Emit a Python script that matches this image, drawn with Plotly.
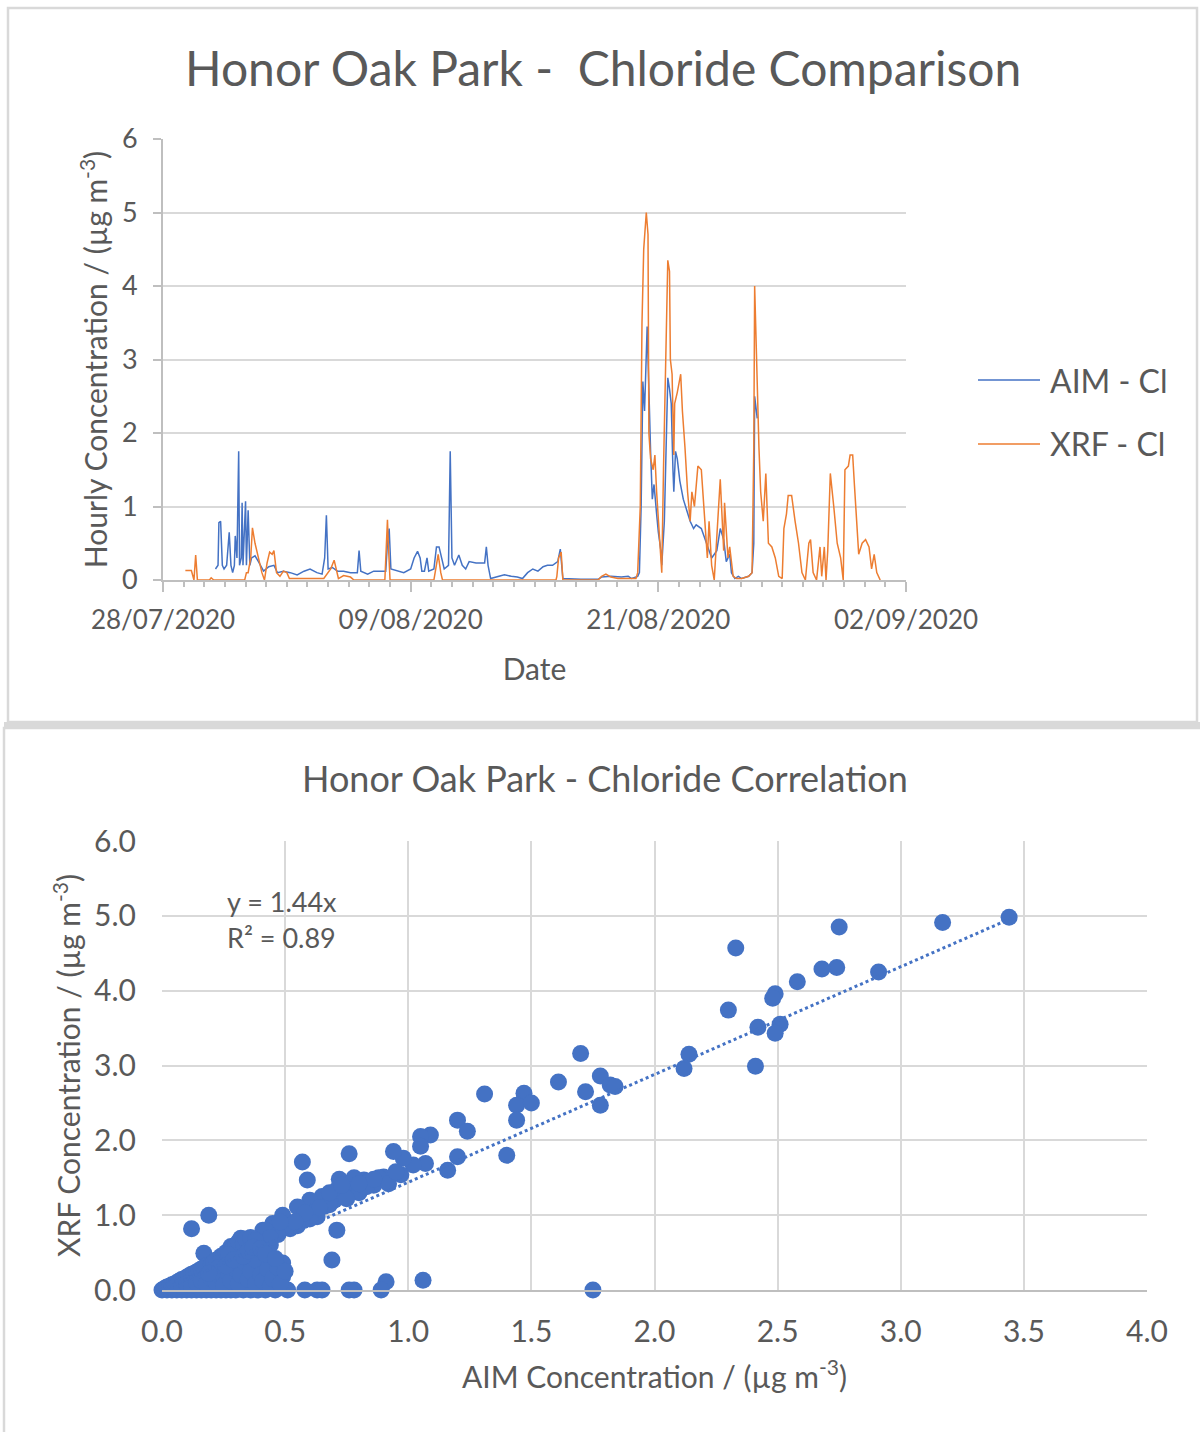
import pandas as pd
import plotly.graph_objects as go

# ---------------- Time-series data (hours after 28/07/2020 00:00) ----------------
aim_hours = [61, 64, 65, 67, 69, 71, 74, 77, 79, 81, 83, 84, 86, 88, 89, 91, 92, 93, 96, 97, 99, 101,
             103, 107, 111, 117, 123, 129, 133, 140, 148, 156, 164, 171, 179, 185, 188, 190, 192, 197,
             203, 210, 218, 226, 228, 230, 238, 245, 253, 259, 261, 263, 265, 273, 280, 288, 292, 296,
             299, 301, 304, 307, 309, 315, 318, 321, 324, 327, 332, 334, 336, 339, 344, 348, 352, 356,
             364, 374, 376, 378, 381, 389, 397, 405, 412, 418, 424, 430, 436, 442, 447, 453, 459, 462,
             465, 486, 506, 510, 521, 533, 541, 545, 552, 554, 556, 558, 560, 563, 565, 567, 569, 571,
             574, 576, 579, 580, 583, 585, 587, 589, 591, 593, 594, 596, 598, 601, 605, 609, 613, 617,
             620, 626, 632, 638, 644, 648, 652, 655, 659, 661, 665, 669, 673, 681, 685, 687, 688, 691]
aim_vals = [0.15, 0.2, 0.78, 0.8, 0.2, 0.15, 0.2, 0.65, 0.2, 0.1, 0.2, 0.6, 0.3, 1.75, 0.2, 0.3, 1.05,
            0.2, 1.07, 0.2, 0.95, 0.2, 0.3, 0.33, 0.25, 0.12, 0.18, 0.2, 0.1, 0.12, 0.1, 0.07, 0.12,
            0.15, 0.1, 0.08, 0.3, 0.88, 0.15, 0.17, 0.12, 0.12, 0.1, 0.1, 0.4, 0.12, 0.08, 0.12, 0.12,
            0.12, 0.5, 0.7, 0.15, 0.12, 0.1, 0.15, 0.3, 0.39, 0.3, 0.12, 0.12, 0.3, 0.12, 0.15, 0.45,
            0.45, 0.3, 0.15, 0.2, 1.75, 0.3, 0.2, 0.34, 0.2, 0.15, 0.25, 0.23, 0.23, 0.45, 0.2, 0.02,
            0.05, 0.07, 0.05, 0.04, 0.02, 0.1, 0.15, 0.12, 0.18, 0.2, 0.2, 0.25, 0.42, 0.02, 0.01, 0.01,
            0.04, 0.05, 0.04, 0.05, 0.02, 0.05, 0.1, 1.0, 2.7, 2.3, 3.45, 2.5, 1.75, 1.1, 1.3, 0.9, 0.65,
            0.4, 0.2, 0.8, 2.0, 2.75, 2.6, 2.4, 1.5, 1.2, 1.75, 1.65, 1.35, 1.1, 0.95, 0.8, 0.7, 0.75,
            0.7, 0.5, 0.3, 0.4, 0.7, 0.55, 0.25, 0.35, 0.1, 0.02, 0.05, 0.02, 0.05, 0.1, 0.5, 2.5, 2.2]

xrf_hours = [26, 33, 36, 38, 40, 54, 56, 59, 95, 97, 99, 102, 104, 107, 111, 115, 118, 121, 124, 127,
             129, 132, 136, 140, 144, 147, 167, 187, 195, 199, 204, 210, 218, 222, 258, 261, 262, 264,
             315, 318, 320, 323, 325, 370, 416, 457, 458, 460, 463, 465, 506, 510, 515, 521, 529, 550,
             552, 555, 557, 559, 562, 564, 565, 567, 570, 572, 574, 576, 578, 580, 582, 585, 587, 589,
             590, 592, 594, 595, 598, 602, 604, 607, 610, 613, 615, 618, 622, 626, 630, 633, 635, 638,
             641, 645, 648, 652, 653, 657, 659, 663, 667, 673, 681, 685, 687, 688, 690, 693, 695, 698,
             701, 704, 708, 712, 716, 720, 722, 725, 727, 731, 735, 739, 743, 747, 751, 753, 756, 760,
             764, 766, 769, 771, 773, 776, 780, 784, 788, 791, 793, 797, 799, 802, 804, 807, 809, 813,
             817, 821, 824, 827, 830, 834]
xrf_vals = [0.13, 0.13, 0.0, 0.34, 0.0, 0.0, 0.03, 0.0, 0.0, 0.1, 0.1, 0.3, 0.71, 0.5, 0.3, 0.1, 0.0,
            0.23, 0.38, 0.35, 0.4, 0.1, 0.05, 0.12, 0.1, 0.02, 0.02, 0.02, 0.15, 0.27, 0.02, 0.06, 0.04,
            0.0, 0.0, 0.82, 0.5, 0.0, 0.0, 0.2, 0.35, 0.1, 0.0, 0.0, 0.0, 0.0, 0.05, 0.3, 0.38, 0.0, 0.0,
            0.05, 0.08, 0.04, 0.02, 0.02, 0.1, 1.0, 3.5, 4.5, 5.0, 4.7, 2.0, 1.65, 1.5, 1.7, 1.2, 0.8,
            0.5, 0.1, 1.5, 3.0, 4.35, 4.2, 3.0, 2.8, 1.7, 2.4, 2.55, 2.8, 2.3, 1.8, 1.2, 0.8, 1.2, 1.0,
            1.55, 1.5, 0.8, 0.3, 0.8, 0.2, 0.0, 0.7, 1.37, 0.4, 1.05, 0.3, 0.45, 0.05, 0.02, 0.02, 0.05,
            0.1, 1.8, 4.0, 3.0, 1.8, 1.2, 0.8, 1.45, 0.5, 0.45, 0.3, 0.05, 0.02, 0.7, 0.9, 1.15, 1.15,
            0.8, 0.5, 0.1, 0.0, 0.5, 0.55, 0.1, 0.0, 0.45, 0.05, 0.45, 0.0, 0.4, 1.45, 1.0, 0.5, 0.3,
            0.0, 1.5, 1.55, 1.7, 1.7, 1.3, 0.8, 0.35, 0.5, 0.55, 0.45, 0.15, 0.35, 0.1, 0.0]

# ---------------- Correlation data ----------------
aim_x = [3.44, 3.17, 2.75, 2.33, 2.91, 2.74, 2.68, 2.58, 2.49, 2.48, 2.30, 2.42, 2.51, 2.49, 2.41, 2.14, 2.12,
         1.70, 1.78, 1.82, 1.84, 1.72, 1.78, 1.61, 1.47, 1.44, 1.50, 1.44, 1.31, 1.20, 1.24, 1.40, 1.20, 1.16,
         1.09, 1.05, 1.05, 1.07, 1.02, 0.98, 0.97, 1.06, 1.75,
         0.94, 0.76, 0.57, 0.59, 0.90, 0.82, 0.76, 0.71, 0.65, 0.60, 0.55, 0.49, 0.45, 0.41, 0.71, 0.69, 0.91,
         0.89, 0.78, 0.76, 0.63, 0.65, 0.58, 0.51,
         0.19, 0.12, 0.17, 0.24, 0.32, 0.28, 0.40, 0.49, 0.49, 0.44, 0.42,
         0.62, 0.66, 0.70, 0.74, 0.78, 0.80, 0.84, 0.86, 0.88, 0.92, 0.95, 0.72, 0.78, 0.83, 0.75, 0.68, 0.63,
         0.60, 0.55, 0.52, 0.47, 0.44, 0.68, 0.73, 0.86, 0.64, 0.58, 0.80, 0.54, 0.48,
         0.00, 0.02, 0.04, 0.06, 0.08, 0.10, 0.12, 0.14, 0.16, 0.18, 0.20, 0.22, 0.24, 0.26, 0.28, 0.30, 0.33,
         0.36, 0.39, 0.42, 0.46,
         0.01, 0.02, 0.03, 0.04, 0.05, 0.06, 0.07, 0.08, 0.09, 0.10, 0.11, 0.12, 0.13, 0.14, 0.15, 0.16, 0.17,
         0.18, 0.20, 0.21, 0.22, 0.24, 0.25, 0.26, 0.28, 0.29, 0.30, 0.31, 0.33, 0.34, 0.36, 0.38, 0.27, 0.23,
         0.05, 0.08, 0.10, 0.12, 0.14, 0.16, 0.18, 0.20, 0.22, 0.24, 0.25, 0.27, 0.28, 0.30, 0.31, 0.32, 0.34,
         0.35, 0.36, 0.38, 0.38, 0.40, 0.41, 0.43, 0.44, 0.45, 0.47, 0.48, 0.50, 0.19, 0.26, 0.29, 0.33, 0.35,
         0.37, 0.40, 0.42, 0.46]
xrf_y = [4.98, 4.91, 4.85, 4.57, 4.25, 4.31, 4.29, 4.12, 3.96, 3.90, 3.74, 3.51, 3.55, 3.43, 2.99, 3.15, 2.96,
         3.16, 2.86, 2.74, 2.72, 2.65, 2.47, 2.78, 2.63, 2.47, 2.50, 2.27, 2.62, 2.27, 2.12, 1.80, 1.78, 1.60,
         2.07, 2.05, 1.92, 1.69, 1.67, 1.76, 1.54, 0.13, 0.00,
         1.85, 1.82, 1.71, 1.47, 1.51, 1.47, 1.43, 1.34, 1.25, 1.20, 1.11, 1.00, 0.89, 0.80, 0.80, 0.40, 0.11,
         0.00, 0.00, 0.00, 0.00, 0.00, 0.00, 0.00,
         1.00, 0.82, 0.49, 0.45, 0.69, 0.58, 0.36, 0.36, 0.18, 0.60, 0.80,
         1.05, 1.12, 1.20, 1.28, 1.36, 1.30, 1.45, 1.40, 1.50, 1.42, 1.58, 1.48, 1.50, 1.38, 1.22, 1.14, 0.98,
         0.95, 0.86, 0.82, 0.74, 0.70, 1.30, 1.40, 1.48, 1.10, 1.03, 1.42, 0.91, 0.91,
         0.00, 0.00, 0.00, 0.00, 0.00, 0.00, 0.00, 0.00, 0.00, 0.00, 0.00, 0.00, 0.00, 0.00, 0.00, 0.00, 0.00,
         0.00, 0.00, 0.00, 0.00,
         0.02, 0.04, 0.05, 0.07, 0.08, 0.10, 0.12, 0.14, 0.15, 0.17, 0.19, 0.21, 0.22, 0.24, 0.26, 0.28, 0.30,
         0.32, 0.34, 0.37, 0.40, 0.42, 0.45, 0.50, 0.52, 0.55, 0.60, 0.64, 0.62, 0.68, 0.70, 0.66, 0.47, 0.30,
         0.03, 0.05, 0.08, 0.06, 0.10, 0.12, 0.08, 0.15, 0.10, 0.18, 0.06, 0.22, 0.12, 0.28, 0.08, 0.20, 0.35,
         0.14, 0.25, 0.40, 0.08, 0.20, 0.12, 0.28, 0.05, 0.15, 0.30, 0.08, 0.25, 0.22, 0.32, 0.40, 0.45, 0.52,
         0.57, 0.55, 0.48, 0.42]

trend_slope = 1.44
trend_r2 = 0.89
trend_x = [0.0, 3.45]

# ---------------- Styling ----------------
BLUE = "#4472C4"
ORANGE = "#ED7D31"
TXT = "#595959"
GRID = "#d9d9d9"
AXIS = "#bfbfbf"
FONT = "Lato"
W, H = 1200, 1432


def fx(p):
    return p / W


def fy(p):
    return 1 - p / H


base = pd.Timestamp("2020-07-28")
aim_t = base + pd.to_timedelta(aim_hours, unit="h")
xrf_t = base + pd.to_timedelta(xrf_hours, unit="h")

fig = go.Figure()
fig.add_trace(go.Scatter(x=aim_t, y=aim_vals, mode="lines", name="AIM - Cl",
                         line=dict(color=BLUE, width=1.5), xaxis="x", yaxis="y", showlegend=False))
fig.add_trace(go.Scatter(x=xrf_t, y=xrf_vals, mode="lines", name="XRF - Cl",
                         line=dict(color=ORANGE, width=1.5), xaxis="x", yaxis="y", showlegend=False))

fig.add_trace(go.Scatter(x=aim_x, y=xrf_y, mode="markers", name="Chloride",
                         marker=dict(color=BLUE, size=17, line=dict(width=0)), cliponaxis=False,
                         xaxis="x2", yaxis="y2", showlegend=False))
fig.add_trace(go.Scatter(x=trend_x, y=[trend_slope * v for v in trend_x], mode="lines",
                         line=dict(color=BLUE, width=3, dash="dot"), xaxis="x2", yaxis="y2",
                         showlegend=False))

shapes = [
    dict(type="rect", xref="paper", yref="paper", x0=fx(8), x1=fx(1197), y0=fy(722), y1=fy(8),
         line=dict(color=GRID, width=2.5), layer="below"),
    dict(type="rect", xref="paper", yref="paper", x0=fx(4), x1=fx(1200), y0=fy(722), y1=fy(728),
         line=dict(width=0), fillcolor=GRID, layer="below"),
    dict(type="rect", xref="paper", yref="paper", x0=fx(4), x1=fx(1205), y0=fy(1440), y1=fy(728),
         line=dict(color=GRID, width=2.5), layer="below"),
    dict(type="line", xref="paper", yref="paper", x0=fx(978), x1=fx(1040), y0=fy(380), y1=fy(380),
         line=dict(color=BLUE, width=1.5)),
    dict(type="line", xref="paper", yref="paper", x0=fx(978), x1=fx(1040), y0=fy(444), y1=fy(444),
         line=dict(color=ORANGE, width=1.5)),
]

annotations = [
    dict(text="Honor Oak Park -  Chloride Comparison", xref="paper", yref="paper", x=fx(603), y=fy(68),
         showarrow=False, font=dict(size=48, color=TXT, family=FONT), xanchor="center", yanchor="middle"),
    dict(text="Honor Oak Park - Chloride Correlation", xref="paper", yref="paper", x=fx(605), y=fy(778),
         showarrow=False, font=dict(size=36, color=TXT, family=FONT), xanchor="center", yanchor="middle"),
    dict(text="AIM - Cl", xref="paper", yref="paper", x=fx(1048), y=fy(380), showarrow=False,
         font=dict(size=32, color=TXT, family=FONT), xanchor="left", yanchor="middle"),
    dict(text="XRF - Cl", xref="paper", yref="paper", x=fx(1048), y=fy(444), showarrow=False,
         font=dict(size=32, color=TXT, family=FONT), xanchor="left", yanchor="middle"),
    dict(text=f"y = {trend_slope:.2f}x", xref="paper", yref="paper", x=fx(225), y=fy(901),
         showarrow=False, font=dict(size=27, color=TXT, family=FONT), xanchor="left", yanchor="middle"),
    dict(text=f"R² = {trend_r2:.2f}", xref="paper", yref="paper", x=fx(225), y=fy(937),
         showarrow=False, font=dict(size=27, color=TXT, family=FONT), xanchor="left", yanchor="middle"),
]

fig.update_layout(
    template="none",
    width=W, height=H, autosize=False,
    margin=dict(l=0, r=0, t=0, b=0, pad=0),
    paper_bgcolor="white", plot_bgcolor="white",
    font=dict(family=FONT, color=TXT),
    shapes=shapes, annotations=annotations,
    showlegend=False,
    xaxis=dict(domain=[fx(163), fx(906)], anchor="y", type="date", automargin=False,
               range=["2020-07-28", "2020-09-02"], tick0="2020-07-28", dtick=12 * 86400000,
               tickformat="%d/%m/%Y", ticks="outside", ticklen=10, tickwidth=2, tickcolor=AXIS,
               minor=dict(dtick=86400000, ticks="outside", ticklen=5, tickwidth=2, tickcolor=AXIS,
                          showgrid=False),
               showline=True, linecolor=AXIS, linewidth=2, showgrid=False, zeroline=False,
               tickfont=dict(size=26, color=TXT), ticklabelstandoff=6,
               title=dict(text="Date", font=dict(size=30, color=TXT), standoff=25)),
    yaxis=dict(domain=[fy(580), fy(139)], anchor="x", range=[0, 6], dtick=1, automargin=False,
               ticks="outside", ticklen=8, tickwidth=2, tickcolor=AXIS,
               showline=True, linecolor=AXIS, linewidth=2, showgrid=True, gridcolor=GRID, gridwidth=2,
               zeroline=False, tickfont=dict(size=27, color=TXT), ticklabelstandoff=10,
               title=dict(text="Hourly Concentration / (µg m<sup>-3</sup>)", font=dict(size=30, color=TXT),
                          standoff=5)),
    xaxis2=dict(domain=[fx(162), fx(1147)], anchor="y2", range=[0, 4], dtick=0.5, tickformat=".1f",
                automargin=False,
                showline=True, linecolor=AXIS, linewidth=2, showgrid=True, gridcolor=GRID, gridwidth=2,
                zeroline=False, ticks="", tickfont=dict(size=30, color=TXT), ticklabelstandoff=14,
                title=dict(text="AIM Concentration / (µg m<sup>-3</sup>)", font=dict(size=30, color=TXT),
                           standoff=20)),
    yaxis2=dict(domain=[fy(1290), fy(841)], anchor="x2", range=[0, 6], dtick=1, tickformat=".1f",
                automargin=False,
                showline=False, showgrid=True, gridcolor=GRID, gridwidth=2, zeroline=False, ticks="",
                tickfont=dict(size=30, color=TXT), ticklabelstandoff=25,
                title=dict(text="XRF Concentration / (µg m<sup>-3</sup>)", font=dict(size=30, color=TXT),
                           standoff=4)),
)

fig.write_html("out.html")
